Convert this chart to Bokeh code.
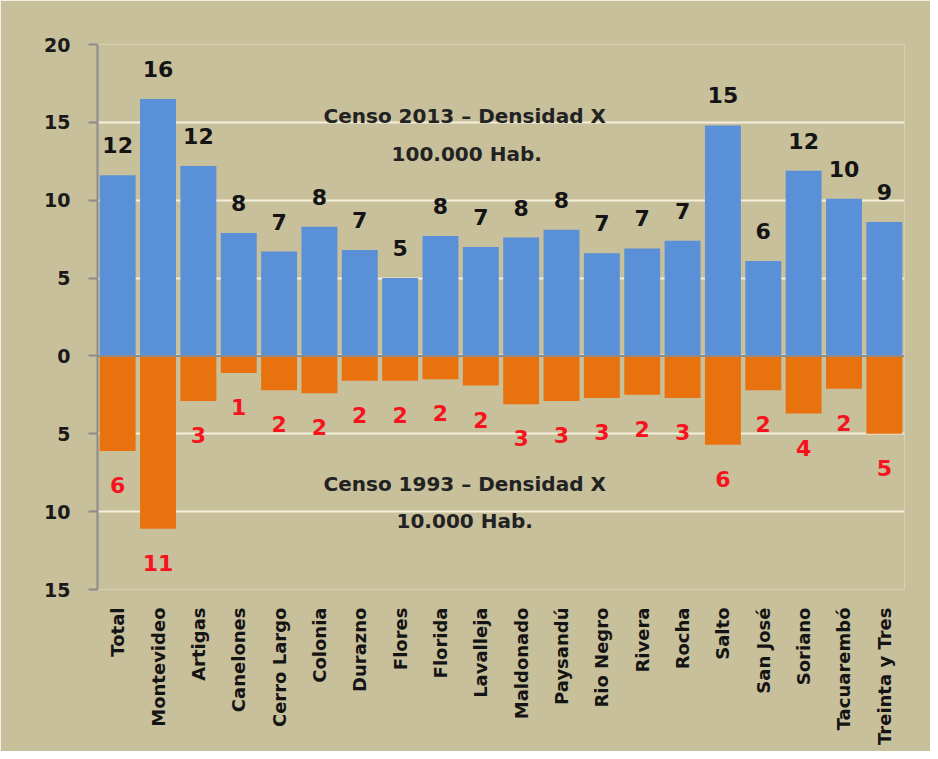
from bokeh.plotting import figure
from bokeh.models import ColumnDataSource, FixedTicker, Range1d, Span, Label
from bokeh.core.properties import value
from bokeh.embed import file_html
from bokeh.resources import INLINE

categories = ["Total", "Montevideo", "Artigas", "Canelones", "Cerro Largo", "Colonia",
              "Durazno", "Flores", "Florida", "Lavalleja", "Maldonado", "Paysandú",
              "Rio Negro", "Rivera", "Rocha", "Salto", "San José", "Soriano",
              "Tacuarembó", "Treinta y Tres"]
censo_2013 = [11.6, 16.5, 12.2, 7.9, 6.7, 8.3, 6.8, 5.0, 7.7, 7.0, 7.6, 8.1,
              6.6, 6.9, 7.4, 14.8, 6.1, 11.9, 10.1, 8.6]
censo_1993 = [6.1, 11.1, 2.9, 1.1, 2.2, 2.4, 1.6, 1.6, 1.5, 1.9, 3.1, 2.9,
              2.7, 2.5, 2.7, 5.7, 2.2, 3.7, 2.1, 5.0]
labels_2013 = ["12", "16", "12", "8", "7", "8", "7", "5", "8", "7", "8", "8",
               "7", "7", "7", "15", "6", "12", "10", "9"]
labels_1993 = ["6", "11", "3", "1", "2", "2", "2", "2", "2", "2", "3", "3",
               "3", "2", "3", "6", "2", "4", "2", "5"]
y_ticks = [-15, -10, -5, 0, 5, 10, 15, 20]
y_tick_labels = ["15", "10", "5", "0", "5", "10", "15", "20"]

FONT = "DejaVu Sans"
BG = "#c8bf9b"
GRID = "#f3efdd"

xs = [i + 0.5 for i in range(len(categories))]
src = ColumnDataSource(dict(
    x=xs,
    top=censo_2013,
    bottom=[-v for v in censo_1993],
    lab_top=labels_2013,
    lab_bot=labels_1993,
))

p = figure(width=930, height=751, output_backend="svg", toolbar_location=None,
           x_range=Range1d(0, len(categories)), y_range=Range1d(-15, 20),
           min_border_left=97, min_border_right=26, min_border_top=44, min_border_bottom=162)
p.background_fill_color = BG
p.border_fill_color = BG
p.outline_line_color = None

p.vbar(x="x", top="top", bottom=0, width=0.89, source=src,
       fill_color="#5990d8", line_color=None)
p.vbar(x="x", top=0, bottom="bottom", width=0.89, source=src,
       fill_color="#e8720e", line_color=None)

p.text(x="x", y="top", text="lab_top", source=src, y_offset=-30,
       text_align="center", text_baseline="middle", text_font=value(FONT),
       text_font_style="bold", text_font_size="22px", text_color="#141414")
p.text(x="x", y="bottom", text="lab_bot", source=src, y_offset=34,
       text_align="center", text_baseline="middle", text_font=value(FONT),
       text_font_style="bold", text_font_size="22px", text_color="#f5141e")

p.add_layout(Span(location=0, dimension="width", line_color="#8c8c8c",
                  line_width=2, level="overlay"))

annots = [("Censo 2013 \u2013 Densidad X", 9.1, 15.4),
          ("100.000 Hab.", 9.15, 13.0),
          ("Censo 1993 \u2013 Densidad X", 9.1, -8.25),
          ("10.000 Hab.", 9.1, -10.6)]
for t, ax, ay in annots:
    p.add_layout(Label(x=ax, y=ay, text=t, text_align="center", text_baseline="middle",
                       text_font=FONT, text_font_style="bold", text_font_size="20px",
                       text_color="#222222"))

# grid
p.xgrid.grid_line_color = None
p.ygrid.ticker = FixedTicker(ticks=y_ticks)
p.ygrid.grid_line_color = GRID
p.ygrid.grid_line_width = 2

# y axis
p.yaxis.ticker = FixedTicker(ticks=y_ticks)
p.yaxis.major_label_overrides = {t: l for t, l in zip(y_ticks, y_tick_labels)}
p.yaxis.axis_line_color = "#8c8c8c"
p.yaxis.axis_line_width = 2
p.yaxis.major_tick_line_color = "#8c8c8c"
p.yaxis.major_tick_line_width = 2
p.yaxis.major_tick_out = 9
p.yaxis.major_tick_in = 0
p.yaxis.minor_tick_line_color = None
p.yaxis.major_label_standoff = 18
p.yaxis.major_label_text_font = FONT
p.yaxis.major_label_text_font_style = "bold"
p.yaxis.major_label_text_font_size = "19px"
p.yaxis.major_label_text_color = "#1a1a1a"

# x axis
p.xaxis.ticker = FixedTicker(ticks=xs)
p.xaxis.major_label_overrides = {x: c for x, c in zip(xs, categories)}
p.xaxis.axis_line_color = None
p.xaxis.major_tick_line_color = None
p.xaxis.minor_tick_line_color = None
p.xaxis.major_label_orientation = 3.14159265 / 2
p.xaxis.major_label_standoff = 12
p.xaxis.major_label_text_font = FONT
p.xaxis.major_label_text_font_style = "bold"
p.xaxis.major_label_text_font_size = "18px"
p.xaxis.major_label_text_color = "#141414"

open("out.html", "w").write(file_html(p, INLINE))
